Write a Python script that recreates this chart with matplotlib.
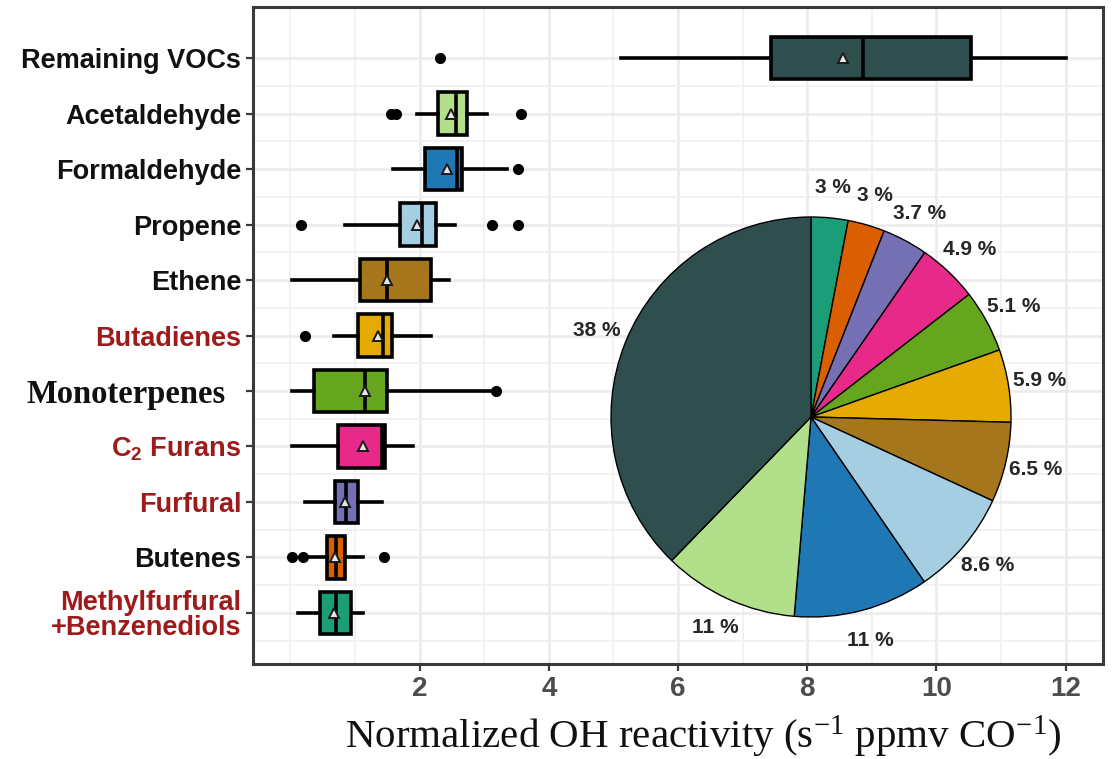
import numpy as np
import matplotlib
matplotlib.use('Agg')
import matplotlib.pyplot as plt
import matplotlib.transforms as mtransforms

plt.rcParams['font.family'] = ['Liberation Sans', 'DejaVu Sans']
plt.rcParams['mathtext.default'] = 'regular'

# Categories, top to bottom
categories = ["Remaining VOCs", "Acetaldehyde", "Formaldehyde", "Propene", "Ethene",
              "Butadienes", "Monoterpenes", "C$_2$ Furans", "Furfural", "Butenes",
              "Methylfurfural\n+Benzenediols"]

# Box statistics (s-1 ppmv CO-1)
whislo = [5.12, 1.96, 1.58, 0.85, 0.02, 0.68, 0.02, 0.02, 0.22, 0.22, 0.12]
q1     = [7.44, 2.28, 2.09, 1.69, 1.07, 1.05, 0.37, 0.73, 0.69, 0.57, 0.45]
med    = [8.87, 2.56, 2.58, 2.03, 1.49, 1.44, 1.16, 1.41, 0.86, 0.70, 0.70]
q3     = [10.54, 2.73, 2.65, 2.26, 2.17, 1.57, 1.50, 1.47, 1.05, 0.84, 0.93]
whishi = [12.0, 3.05, 3.35, 2.54, 2.46, 2.17, 3.16, 1.89, 1.41, 1.12, 1.13]
means  = [8.56, 2.48, 2.43, 1.96, 1.50, 1.35, 1.16, 1.13, 0.85, 0.69, 0.68]
fliers = [[2.31], [1.56, 1.63, 3.57], [3.52], [0.17, 3.12, 3.53], [], [0.22],
          [3.18], [], [], [0.02, 0.20, 1.45], []]

# Share of total OH reactivity (%), same order as categories
shares = [38, 11, 11, 8.6, 6.5, 5.9, 5.1, 4.9, 3.7, 3, 3]
share_labels = ["38 %", "11 %", "11 %", "8.6 %", "6.5 %", "5.9 %", "5.1 %",
                "4.9 %", "3.7 %", "3 %", "3 %"]

colors = ["#2F4F4F", "#B2DF8A", "#1F78B4", "#A6CEE3", "#A6761D", "#E6AB02",
          "#66A61E", "#E7298A", "#7570B3", "#D95F02", "#1B9E77"]
label_colors = ["#111111", "#111111", "#111111", "#111111", "#111111", "#9E1B1B",
                "#111111", "#9E1B1B", "#9E1B1B", "#111111", "#9E1B1B"]

n = len(categories)
positions = np.arange(n)[::-1]

fig = plt.figure(figsize=(11.19, 7.59), dpi=100)
ax = fig.add_axes([253 / 1119, 1 - 664 / 759, 850 / 1119, 657 / 759])

stats = []
for i in range(n):
    stats.append(dict(whislo=whislo[i], q1=q1[i], med=med[i], q3=q3[i],
                      whishi=whishi[i], mean=means[i], fliers=fliers[i]))

bp = ax.bxp(stats, positions=positions, widths=0.77, orientation='horizontal',
            patch_artist=True, showmeans=True, showcaps=False,
            boxprops=dict(edgecolor='black', linewidth=2.6),
            medianprops=dict(color='black', linewidth=2.6),
            whiskerprops=dict(color='black', linewidth=2.6),
            meanprops=dict(marker='^', markerfacecolor='#e6e6e6',
                           markeredgecolor='#1a1a1a', markeredgewidth=1.4,
                           markersize=7.5),
            flierprops=dict(marker='o', markerfacecolor='black',
                            markeredgecolor='black', markersize=7))
for box, c in zip(bp['boxes'], colors):
    box.set_facecolor(c)

ax.set_xlim(-0.58, 12.58)
ax.set_ylim(-0.92, n - 1 + 0.92)

ax.set_xticks(np.arange(2, 13, 2))
ax.set_xticks([0, 1, 3, 5, 7, 9, 11], minor=True)
ax.set_yticks(positions)
ax.set_yticklabels(categories)
ax.set_yticks(np.arange(-0.5, n - 0.5, 1), minor=True)

ax.set_axisbelow(True)
ax.grid(which='major', color='#ebebeb', linewidth=1.8)
ax.grid(which='minor', color='#f0f0f0', linewidth=1.2)

for s in ax.spines.values():
    s.set_color('#3a3a3a')
    s.set_linewidth(2.2)

ax.tick_params(which='minor', length=0)
ax.tick_params(axis='both', which='major', length=5, width=1.6, color='#3a3a3a')
ax.tick_params(axis='x', pad=4, labelsize=20, labelcolor='#4d4d4d')
ax.tick_params(axis='y', pad=3.5, labelsize=19.5)
for t in ax.get_xticklabels():
    t.set_fontweight('bold')

for t, c in zip(ax.get_yticklabels(), label_colors):
    t.set_fontweight('bold')
    t.set_color(c)
    t.set_linespacing(0.95)
    if t.get_text() == "Monoterpenes":
        t.set_family(['Liberation Serif', 'DejaVu Serif'])
        t.set_fontsize(23.5)
        shift = mtransforms.ScaledTranslation(-16 / 100, 0, fig.dpi_scale_trans)
        t.set_transform(t.get_transform() + shift)

fig.text(703 / 1119, 1 - 748 / 759,
         "Normalized OH reactivity (s$^{-1}$ ppmv CO$^{-1}$)",
         ha='center', va='baseline', fontsize=29.5,
         family=['Liberation Serif', 'DejaVu Serif'], color='#111111')

# Inset pie of the share of each group, clockwise from the top
pax = fig.add_axes([(811 - 260) / 1119, 1 - (417 + 260) / 759, 520 / 1119, 520 / 759])
pax.patch.set_alpha(0)
wedges, texts = pax.pie(shares[::-1], colors=colors[::-1], labels=share_labels[::-1],
                        startangle=90, counterclock=False, radius=1.0,
                        labeldistance=1.155,
                        wedgeprops=dict(edgecolor='black', linewidth=1.0),
                        textprops=dict(fontsize=15, fontweight='bold', color='#262626'))
for t in texts:
    t.set_ha('center')
    t.set_va('center')
pax.set_xlim(-1.3, 1.3)
pax.set_ylim(-1.3, 1.3)
pax.set_aspect('equal')
pax.axis('off')

fig.savefig('out.png', dpi=100)
